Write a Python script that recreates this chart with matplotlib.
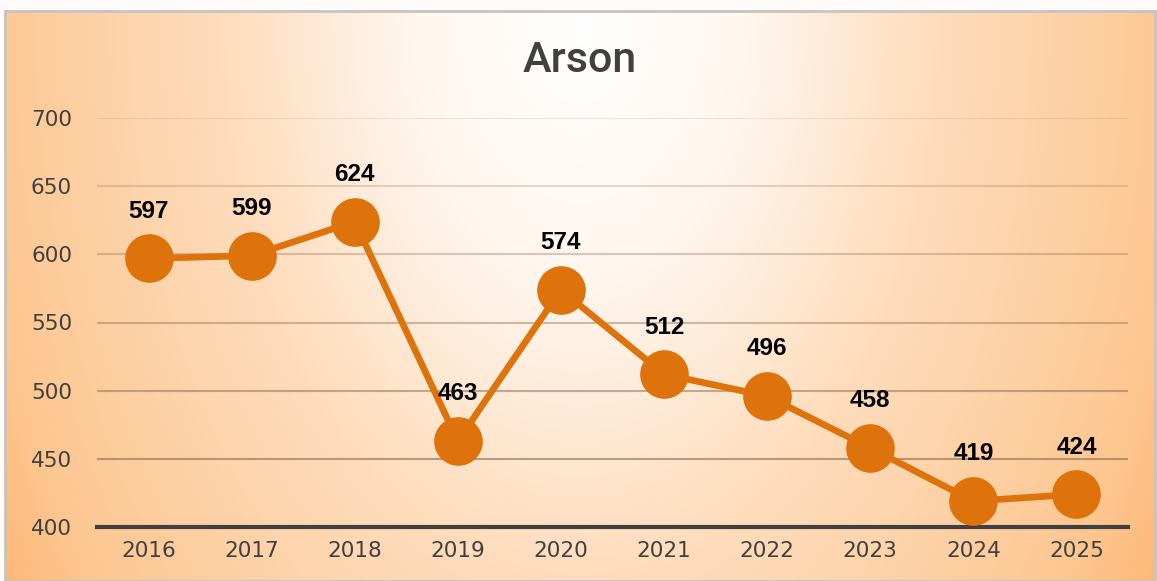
import numpy as np
import matplotlib.pyplot as plt
from matplotlib.patches import Rectangle
from matplotlib.colors import LinearSegmentedColormap

years = ["2016", "2017", "2018", "2019", "2020", "2021", "2022", "2023", "2024", "2025"]
arson = [597, 599, 624, 463, 574, 512, 496, 458, 419, 424]
yticks = [400, 450, 500, 550, 600, 650, 700]

W, H = 1157, 581
fig = plt.figure(figsize=(W / 100, H / 100), dpi=100)
fig.patch.set_facecolor("#fefbf8")

# radial gradient background (white at top centre, orange in the corners)
bg = fig.add_axes([5 / W, 0, 1150 / W, 1 - 11 / H])
bg.set_axis_off()
gx, gy = np.meshgrid(np.linspace(-1, 1, 600), np.linspace(0, 1, 300))
r = np.sqrt(gx ** 2 + (gy / 1.6) ** 2)
r = np.clip(r / r.max(), 0, 1)
cmap = LinearSegmentedColormap.from_list(
    "bg", [(0, "#ffffff"), (0.25, "#fff6ee"), (0.53, "#fedcbb"),
           (0.89, "#fdc792"), (1, "#fdb978")])
# row 0 (gy = 0) sits at the top
bg.imshow(r, cmap=cmap, aspect="auto", extent=[0, 1, 0, 1], origin="upper",
          vmin=0, vmax=1)
bg.add_patch(Rectangle((0, 0), 1, 1, transform=bg.transAxes, fill=False,
                       edgecolor="#c4c4c4", linewidth=2, clip_on=False))

ax = fig.add_axes([97 / W, 54 / H, 1031 / W, 409 / H])
ax.patch.set_alpha(0)
x = np.arange(len(years))
ax.set_xlim(-0.5, len(years) - 0.5)
ax.set_ylim(400, 700)

# gridlines get darker towards the bottom
for t in yticks[1:]:
    a = 0.15 + 0.45 * (700 - t) / 250
    ax.axhline(t, color="#8a6a50", alpha=a, linewidth=1.5, zorder=1)

ax.plot(x, arson, color="#dd730a", linewidth=4.8, marker="o", markersize=34,
        zorder=3, clip_on=False)
for xi, v in zip(x, arson):
    ax.annotate(str(v), (xi, v), xytext=(0, 34), textcoords="offset points",
                ha="center", va="center", fontsize=17.5, fontweight="bold",
                family="Liberation Sans", color="black", zorder=4)

for s in ["top", "right", "left"]:
    ax.spines[s].set_visible(False)
ax.spines["bottom"].set_color("#404040")
ax.spines["bottom"].set_linewidth(3)
ax.spines["bottom"].set_zorder(2)
ax.set_xticks(x)
ax.set_xticklabels(years)
ax.set_yticks(yticks)
ax.tick_params(length=0, labelsize=15.5, labelcolor="#404040", pad=10)
ax.tick_params(axis="y", pad=18)

fig.text(580 / W, 1 - 60 / H, "Arson", ha="center", va="center",
         fontsize=31, family="Roboto", fontweight="medium", color="#404040")

fig.savefig("out.png", dpi=100, facecolor=fig.get_facecolor())
